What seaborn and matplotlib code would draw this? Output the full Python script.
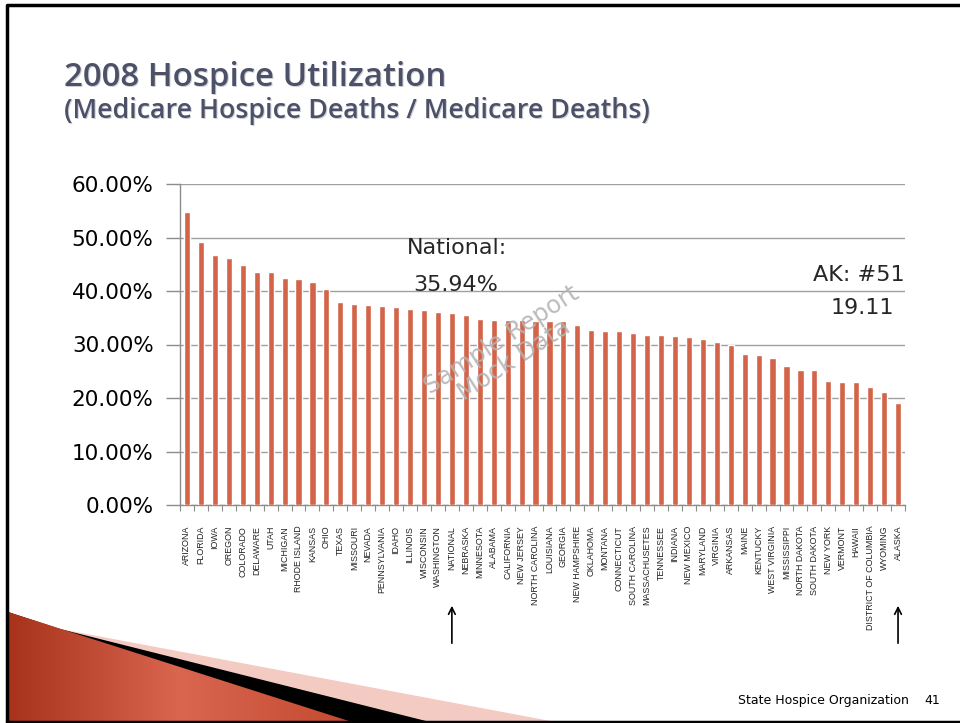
import numpy as np
import pandas as pd
import matplotlib
matplotlib.use("Agg")
import matplotlib.pyplot as plt
import seaborn as sns
from matplotlib.patches import Polygon
from matplotlib.ticker import FuncFormatter, FixedLocator

# Data (percent of Medicare deaths in hospice, 2008)
states = [
    "ARIZONA", "FLORIDA", "IOWA", "OREGON", "COLORADO", "DELAWARE", "UTAH",
    "MICHIGAN", "RHODE ISLAND", "KANSAS", "OHIO", "TEXAS", "MISSOURI", "NEVADA",
    "PENNSYLVANIA", "IDAHO", "ILLINOIS", "WISCONSIN", "WASHINGTON", "NATIONAL",
    "NEBRASKA", "MINNESOTA", "ALABAMA", "CALIFORNIA", "NEW JERSEY",
    "NORTH CAROLINA", "LOUISIANA", "GEORGIA", "NEW HAMPSHIRE", "OKLAHOMA",
    "MONTANA", "CONNECTICUT", "SOUTH CAROLINA", "MASSACHUSETES", "TENNESSEE",
    "INDIANA", "NEW MEXICO", "MARYLAND", "VIRGINIA", "ARKANSAS", "MAINE",
    "KENTUCKY", "WEST VIRGINIA", "MISSISSIPPI", "NORTH DAKOTA", "SOUTH DAKOTA",
    "NEW YORK", "VERMONT", "HAWAII", "DISTRICT OF COLUMBIA", "WYOMING", "ALASKA",
]
utilization = [
    54.7, 49.2, 46.8, 46.2, 44.9, 43.6, 43.6, 42.5, 42.3, 41.7, 40.4, 38.0,
    37.6, 37.4, 37.2, 37.1, 36.7, 36.5, 36.1, 35.94, 35.6, 34.8, 34.6, 34.6,
    34.55, 34.4, 34.3, 34.35, 33.7, 32.7, 32.6, 32.6, 32.1, 31.8, 31.8, 31.5,
    31.4, 31.1, 30.4, 30.0, 28.2, 28.1, 27.4, 26.0, 25.3, 25.2, 23.2, 23.0,
    22.9, 22.0, 21.2, 19.11,
]
y_ticks = [0, 10, 20, 30, 40, 50, 60]

W, H = 960, 723
BAR = "#D3644A"
TITLE = "#4C5168"


def fx(px):
    return px / W


def fy(py):
    return 1 - py / H


sns.set_theme(style="white")
plt.rcParams["font.family"] = ["DejaVu Sans"]

fig = plt.figure(figsize=(9.6, 7.23), dpi=100)

# background layer for the slide decoration, in pixel coordinates
bg = fig.add_axes([0, 0, 1, 1], zorder=0)
bg.set_xlim(0, W)
bg.set_ylim(H, 0)
bg.axis("off")
bg.add_patch(Polygon([(8, 612), (60, 629), (556, 722), (8, 722)],
                     closed=True, color="#F3CBC3", lw=0))
bg.add_patch(Polygon([(8, 612), (60, 629), (430, 722), (8, 722)],
                     closed=True, color="black", lw=0))
red = Polygon([(8, 612), (352, 722), (8, 722)], closed=True, color="none", lw=0)
bg.add_patch(red)
grad = np.linspace(0, 1, 200)[None, :] * np.ones((50, 1))
im = bg.imshow(grad, extent=(8, 352, 722, 612), cmap=matplotlib.colors.LinearSegmentedColormap.from_list(
    "swoosh", ["#A8321A", "#DA6650", "#C24A30"]), aspect="auto", zorder=2)
im.set_clip_path(red)
# slide frame
bg.plot([7, 7, W + 5], [722, 5, 5], color="black", lw=2.5, solid_capstyle="butt")
bg.plot([7, W + 5], [721.5, 721.5], color="black", lw=2.5)

df = pd.DataFrame({"state": states, "pct": utilization})

ax = fig.add_axes([fx(180), fy(505), fx(905) - fx(180), fy(184) - fy(505)], zorder=1)
ax.patch.set_alpha(0)
sns.barplot(data=df, x="state", y="pct", color=BAR, saturation=1, width=0.44, ax=ax, zorder=3)
ax.set_xlim(-0.5, len(states) - 0.5)
ax.set_ylim(0, 60)
ax.set_yticks(y_ticks)
ax.yaxis.set_major_formatter(FuncFormatter(lambda v, _: f"{v:.2f}%"))
ax.yaxis.grid(True, color="#A0A0A0", lw=1)
ax.set_axisbelow(True)
ax.set_xlabel("")
ax.set_ylabel("")
sns.despine(ax=ax, top=True, right=True)
for s in ("left", "bottom"):
    ax.spines[s].set_color("#8C8C8C")
    ax.spines[s].set_linewidth(1)
ax.tick_params(axis="y", left=True, length=10, width=1, color="#8C8C8C",
               labelsize=15.5, pad=9, labelcolor="black")
ax.tick_params(axis="x", bottom=False, labelsize=6.4, pad=9, labelcolor="#222222")
ax.xaxis.set_minor_locator(FixedLocator(np.arange(-0.5, len(states), 1)))
ax.tick_params(axis="x", which="minor", bottom=True, length=4, width=0.8, color="#8C8C8C")
for lab in ax.get_xticklabels():
    lab.set_rotation(90)
    lab.set_va("top")
    lab.set_ha("center")
    lab.set_family(["Liberation Sans", "DejaVu Sans"])

# arrows under NATIONAL and ALASKA
for name in ("NATIONAL", "ALASKA"):
    i = states.index(name)
    ax.annotate("", xy=(i, (505 - 603) / 321), xytext=(i, (505 - 646) / 321),
                xycoords=ax.get_xaxis_transform(), textcoords=ax.get_xaxis_transform(),
                arrowprops=dict(arrowstyle="->", color="black", lw=1.2), annotation_clip=False)

# call-outs
fig.text(fx(457), fy(248), "National:", fontsize=16, ha="center", va="center")
fig.text(fx(456), fy(285), "35.94%", fontsize=16, ha="center", va="center")
fig.text(fx(905), fy(275), "AK: #51", fontsize=16, ha="right", va="center")
fig.text(fx(862), fy(308), "19.11", fontsize=16, ha="center", va="center")

# watermark
fig.text(fx(508), fy(350), "Sample Report\nMock Data", fontsize=17.5, color="#B4B4B4",
         rotation=33, ha="center", va="center", linespacing=1.0, alpha=0.9, zorder=5)

# title
for dx, dy, col in ((1.2, 1.2, "#CDCFD6"), (0, 0, TITLE)):
    fig.text(fx(64 + dx), fy(86 + dy), "2008 Hospice Utilization", fontsize=23.8,
             fontweight="semibold", family="Open Sans", color=col, ha="left", va="baseline")
    fig.text(fx(64 + dx), fy(118 + dy), "(Medicare Hospice Deaths / Medicare Deaths)",
             fontsize=19.3, fontweight="semibold", family="Open Sans", color=col,
             ha="left", va="baseline")

# footer
fig.text(fx(738), fy(704), "State Hospice Organization", fontsize=9, color="black",
         ha="left", va="baseline")
fig.text(fx(940), fy(704), "41", fontsize=9, color="black", ha="right", va="baseline")

fig.savefig("out.png", dpi=100, facecolor="white")
